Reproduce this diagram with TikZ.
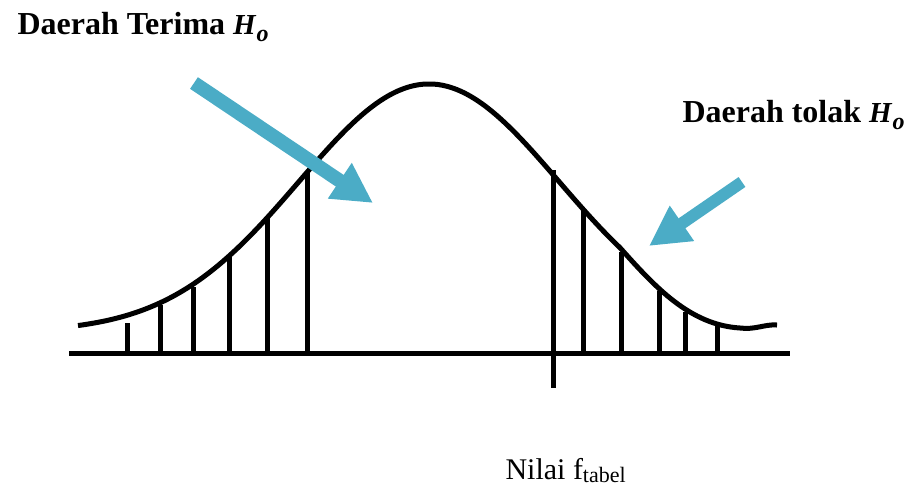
\documentclass[tikz,border=0pt]{standalone}
\usepackage{fontspec}
\setmainfont{Liberation Serif}
\usetikzlibrary{arrows.meta}
\definecolor{arrowTeal}{HTML}{4BACC6}
\newcommand{\hnull}{{\bfseries\itshape\fontsize{29}{34}\selectfont H}\kern1pt\raisebox{-7pt}{\bfseries\itshape\fontsize{24}{28}\selectfont o}}

\begin{document}
\begin{tikzpicture}[x=1pt, y=-1pt, line width=5pt,
    every node/.style={font=\fontsize{30}{36}\selectfont, inner sep=0pt},
    pointer/.style={arrowTeal, line width=14pt, -{Triangle[length=40pt, width=40pt]}}]
  \useasboundingbox (0,0) rectangle (910,488);
  % sumbu
  \draw (69,353) -- (790,353);
  \draw (553,170) -- (553,388);
  % kurva
  \draw[line join=round] plot[domain=78:620, samples=120, smooth]
    (\x, {332-248*exp(-0.5*((\x-429)/130)^2)})
    .. controls (655,287) and (690,325) .. (740,328)
    .. controls (755,330) and (765,324) .. (777,325);
  \foreach \x/\top in {127/323, 160/305, 193/287, 229/257, 267/217, 307/171,
    583/210, 621/252, 659/291, 685/312, 717/326}
    \draw (\x,353) -- (\x,\top);
  % label
  \node[anchor=base west] (terima) at (15,34) {\fontsize{32}{38}\selectfont\textbf{Daerah Terima} \hnull};
  \node[anchor=base west] (tolak) at (680,122) {\fontsize{32}{38}\selectfont\textbf{Daerah tolak} \hnull};
  \node[anchor=base west] (ftabel) at (503,479) {Nilai f\raisebox{-3pt}{\fontsize{22}{26}\selectfont tabel}};
  % panah
  \coordinate (tailA) at (194,83); \coordinate (tipA) at (373,203);
  \coordinate (tailB) at (742,182); \coordinate (tipB) at (649,246);
  \draw[pointer] (tailA) -- (tipA);
  \draw[pointer, line width=12pt] (tailB) -- (tipB);
\end{tikzpicture}
\end{document}
